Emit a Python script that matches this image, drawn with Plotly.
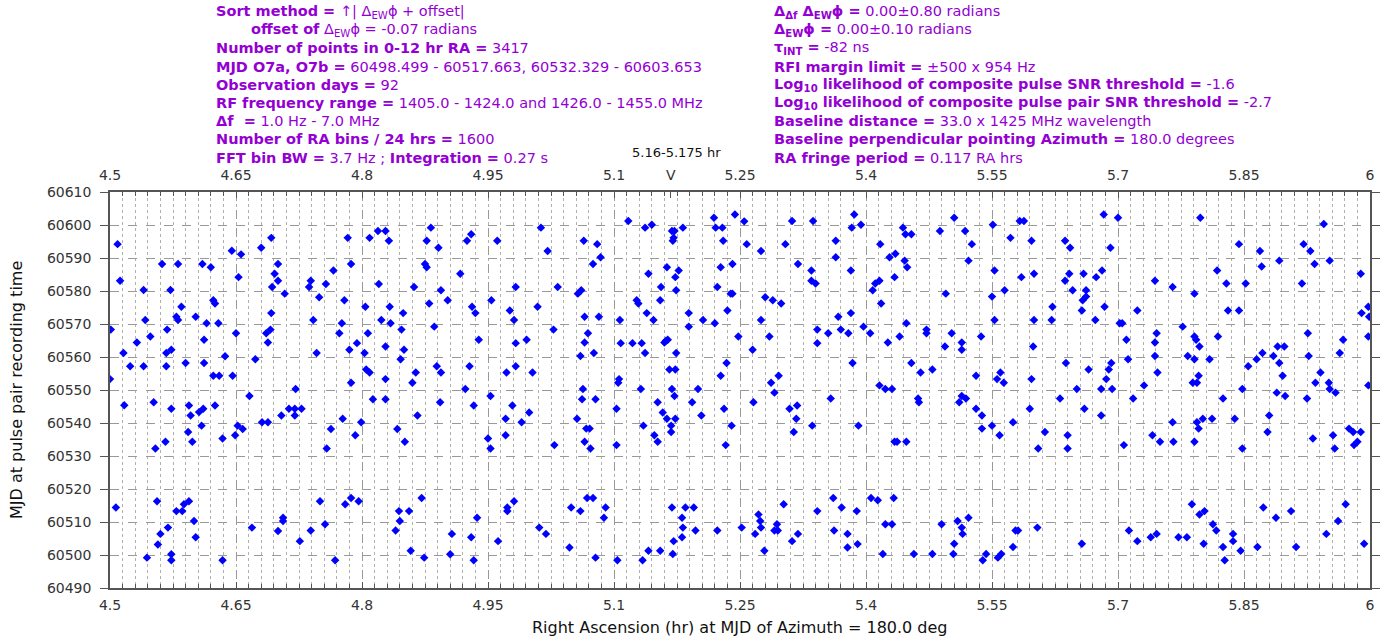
import plotly.graph_objects as go

# ---------------- data ----------------
ra_hr = [
    4.509, 4.512, 4.501, 4.516, 4.524, 4.500, 4.517, 4.507, 4.532, 4.540, 4.542, 4.548, 4.540, 4.552, 4.554,
    4.544, 4.556, 4.560, 4.557, 4.562, 4.568, 4.567, 4.573, 4.567, 4.572, 4.581, 4.585, 4.579, 4.581, 4.566,
    4.573, 4.569, 4.573, 4.573, 4.579, 4.586, 4.588, 4.594, 4.590, 4.594, 4.596, 4.593, 4.598, 4.600, 4.602,
    4.602, 4.610, 4.620, 4.623, 4.625, 4.615, 4.612, 4.612, 4.623, 4.630, 4.606, 4.611, 4.609, 4.625, 4.629,
    4.634, 4.634, 4.645, 4.656, 4.653, 4.650, 4.637, 4.646, 4.666, 4.652, 4.658, 4.649, 4.669, 4.673, 4.680,
    4.692, 4.696, 4.700, 4.700, 4.693, 4.708, 4.692, 4.686, 4.691, 4.688, 4.681, 4.688, 4.704, 4.713, 4.720,
    4.720, 4.728, 4.721, 4.706, 4.706, 4.700, 4.726, 4.739, 4.750, 4.756, 4.768, 4.737, 4.739, 4.749, 4.742,
    4.746, 4.766, 4.757, 4.783, 4.787, 4.779, 4.776, 4.773, 4.785, 4.787, 4.777, 4.763, 4.758, 4.792, 4.794,
    4.780, 4.787, 4.796,
    # 4.8 - 5.1
    4.799, 4.809, 4.819, 4.828, 4.832, 4.820, 4.804, 4.833, 4.823, 4.834, 4.807, 4.803, 4.828, 4.805, 4.809,
    4.828, 4.813, 4.828, 4.849, 4.847, 4.850, 4.846, 4.864, 4.860, 4.866, 4.842, 4.851, 4.862, 4.882, 4.877,
    4.891, 4.875, 4.877, 4.894, 4.880, 4.902, 4.886, 4.889, 4.894, 4.893, 4.917, 4.925, 4.930, 4.931, 4.935,
    4.939, 4.928, 4.923, 4.933, 4.871, 4.844, 4.856, 4.845, 4.840, 4.858, 4.874, 4.907, 4.905, 4.930, 4.937,
    4.933, 4.961, 4.954, 4.976, 4.981, 4.983, 4.983, 4.996, 4.983, 4.972, 5.003, 4.953, 4.979, 4.971, 4.990,
    4.999, 4.971, 4.950, 4.953, 4.981, 4.973, 4.973, 4.962, 5.013, 5.021, 5.009, 5.033, 5.028, 5.029, 5.011,
    5.019, 5.049, 5.060, 5.047, 5.064, 5.080, 5.084, 5.075, 5.057, 5.061, 5.065, 5.082, 5.069, 5.065, 5.060,
    5.076, 5.063, 5.062, 5.078, 5.056, 5.067, 5.071, 5.065, 5.072, 5.068, 5.075, 5.090, 5.088, 5.078,
    # 5.1 - 5.4
    5.117, 5.137, 5.145, 5.169, 5.172, 5.171, 5.170, 5.182, 5.141, 5.163, 5.177, 5.173, 5.156, 5.174, 5.127,
    5.129, 5.155, 5.139, 5.107, 5.147, 5.108, 5.122, 5.133, 5.137, 5.160, 5.162, 5.164, 5.174, 5.189, 5.189,
    5.206, 5.220, 5.166, 5.173, 5.106, 5.105, 5.132, 5.169, 5.172, 5.200, 5.152, 5.193, 5.103, 5.158, 5.163,
    5.173, 5.204, 5.135, 5.168, 5.168, 5.148, 5.152, 5.103, 5.219, 5.221, 5.229, 5.244, 5.255, 5.230, 5.258,
    5.241, 5.227, 5.275, 5.304, 5.223, 5.239, 5.241, 5.235, 5.248, 5.265, 5.275, 5.280, 5.289, 5.299, 5.285,
    5.234, 5.227, 5.287, 5.296, 5.291, 5.266, 5.231, 5.240, 5.233, 5.309, 5.318, 5.317, 5.314, 5.312, 5.337,
    5.319, 5.364, 5.364, 5.386, 5.383, 5.382, 5.335, 5.335, 5.340, 5.367, 5.382, 5.342, 5.355, 5.370, 5.379,
    5.342, 5.384, 5.358, 5.336, 5.391, 5.169, 5.185, 5.195, 5.181, 5.182, 5.197, 5.181, 5.171, 5.141, 5.155,
    5.170, 5.104, 5.134, 5.223, 5.252, 5.272, 5.274, 5.275, 5.268, 5.279, 5.294, 5.291, 5.295, 5.302, 5.319,
    5.312, 5.342, 5.361, 5.371, 5.362, 5.378, 5.378, 5.389, 5.390,
    # 5.4 - 5.7
    5.394, 5.417, 5.444, 5.447, 5.454, 5.428, 5.435, 5.446, 5.449, 5.434, 5.411, 5.416, 5.408, 5.418, 5.397,
    5.405, 5.426, 5.440, 5.448, 5.454, 5.465, 5.416, 5.423, 5.431, 5.462, 5.463, 5.434, 5.437, 5.448, 5.488,
    5.505, 5.518, 5.526, 5.522, 5.495, 5.472, 5.472, 5.502, 5.514, 5.514, 5.494, 5.537, 5.479, 5.531, 5.514,
    5.511, 5.519, 5.531, 5.538, 5.538, 5.550, 5.559, 5.551, 5.572, 5.583, 5.588, 5.597, 5.553, 5.550, 5.565,
    5.585, 5.600, 5.553, 5.600, 5.599, 5.560, 5.556, 5.564, 5.597, 5.575, 5.595, 5.613, 5.605, 5.637, 5.643,
    5.642, 5.637, 5.646, 5.659, 5.674, 5.681, 5.662, 5.662, 5.658, 5.657, 5.684, 5.683, 5.622, 5.621, 5.673,
    5.638, 5.665, 5.651, 5.680, 5.631, 5.660, 5.680, 5.640, 5.640, 5.406, 5.414, 5.433, 5.423, 5.431, 5.420,
    5.457, 5.479, 5.490, 5.509, 5.514, 5.515, 5.522, 5.505, 5.504, 5.543, 5.539, 5.557, 5.561, 5.578, 5.581,
    5.575, 5.604, 5.657,
    # 5.7 - 6.0
    5.691, 5.700, 5.686, 5.689, 5.692, 5.693, 5.702, 5.705, 5.710, 5.712, 5.723, 5.718, 5.731, 5.707, 5.744,
    5.765, 5.746, 5.744, 5.744, 5.747, 5.741, 5.750, 5.765, 5.766, 5.777, 5.791, 5.791, 5.793, 5.797, 5.783,
    5.791, 5.796, 5.789, 5.794, 5.809, 5.794, 5.801, 5.812, 5.796, 5.791, 5.798, 5.818, 5.829, 5.831, 5.844,
    5.844, 5.852, 5.819, 5.825, 5.839, 5.848, 5.848, 5.855, 5.869, 5.871, 5.892, 5.865, 5.872, 5.885, 5.890,
    5.898, 5.892, 5.896, 5.889, 5.899, 5.880, 5.878, 5.921, 5.929, 5.934, 5.919, 5.945, 5.952, 5.926, 5.927,
    5.941, 5.935, 5.951, 5.952, 5.959, 5.925, 5.932, 5.956, 5.958, 5.964, 5.968, 5.989, 5.990, 5.998, 5.999,
    5.998, 5.998, 5.975, 5.980, 5.989, 5.981, 5.985, 5.788, 5.797, 5.803, 5.813, 5.817, 5.802, 5.713, 5.723,
    5.739, 5.746, 5.772, 5.782, 5.825, 5.827, 5.837, 5.837, 5.846, 5.866, 5.873, 5.888, 5.906, 5.912, 5.948,
    5.962, 5.971, 5.993,
]

mjd = [
    60594.2, 60583.1, 60568.3, 60561.2, 60557.2, 60553.3, 60545.4, 60514.4, 60564.4, 60580.3, 60571.2, 60566.2, 60557.2, 60546.3, 60532.3,
    60499.2, 60516.3, 60506.4, 60503.2, 60588.2, 60568.3, 60561.2, 60562.2, 60557.2, 60580.3, 60588.2, 60575.2, 60572.2, 60571.2, 60534.3,
    60544.3, 60508.3, 60500.2, 60498.4, 60513.3, 60513.3, 60515.4, 60516.3, 60558.2, 60545.3, 60542.3, 60537.3, 60534.3, 60510.3, 60505.4,
    60572.2, 60588.2, 60587.2, 60577.2, 60576.2, 60570.2, 60565.2, 60558.2, 60554.3, 60554.3, 60543.3, 60544.3, 60539.2, 60545.3, 60570.2,
    60535.3, 60498.4, 60592.2, 60591.1, 60584.2, 60567.2, 60560.2, 60554.3, 60548.2, 60539.2, 60538.2, 60536.3, 60508.3, 60559.3, 60593.1,
    60596.1, 60585.2, 60588.2, 60583.1, 60581.2, 60579.2, 60573.3, 60567.2, 60568.3, 60564.4, 60540.2, 60540.2, 60542.3, 60544.3, 60544.3,
    60542.3, 60544.3, 60550.3, 60511.3, 60510.3, 60507.3, 60504.2, 60507.4, 60516.3, 60509.3, 60498.4, 60581.2, 60583.1, 60578.1, 60571.2,
    60561.2, 60586.2, 60582.1, 60596.1, 60588.2, 60577.2, 60570.2, 60567.2, 60562.2, 60552.2, 60541.3, 60538.2, 60532.3, 60536.3, 60564.2,
    60515.4, 60517.3, 60516.3,
    # 4.8 - 5.1
    60540.2, 60596.1, 60598.2, 60598.2, 60595.2, 60582.1, 60575.2, 60575.2, 60571.2, 60570.2, 60567.2, 60561.2, 60563.2, 60556.2, 60555.3,
    60553.3, 60547.2, 60547.2, 60573.3, 60568.3, 60562.2, 60559.3, 60555.3, 60552.2, 60542.3, 60538.2, 60534.3, 60581.2, 60599.2, 60595.2,
    60593.1, 60588.2, 60587.2, 60580.2, 60576.2, 60577.2, 60569.2, 60557.2, 60555.3, 60546.3, 60585.2, 60595.2, 60597.2, 60575.2, 60573.3,
    60565.2, 60557.2, 60550.3, 60545.3, 60517.3, 60513.3, 60513.3, 60510.3, 60507.4, 60501.3, 60499.2, 60506.4, 60500.2, 60505.4, 60511.3,
    60498.4, 60595.2, 60577.2, 60574.1, 60571.2, 60581.2, 60564.2, 60565.2, 60557.2, 60555.3, 60555.3, 60548.2, 60545.3, 60541.3, 60540.2,
    60543.2, 60536.3, 60535.3, 60532.3, 60516.3, 60514.4, 60513.3, 60504.2, 60599.2, 60592.1, 60575.2, 60581.2, 60568.3, 60533.3, 60508.3,
    60506.4, 60514.4, 60513.3, 60502.3, 60595.2, 60594.2, 60590.2, 60588.2, 60579.2, 60580.2, 60572.2, 60572.2, 60567.2, 60564.4, 60560.3,
    60561.2, 60550.3, 60547.2, 60547.2, 60541.3, 60538.3, 60538.3, 60534.3, 60532.3, 60517.3, 60517.3, 60514.4, 60511.3, 60499.2,
    # 5.1 - 5.4
    60601.2, 60599.2, 60600.1, 60598.2, 60598.2, 60596.1, 60595.2, 60599.2, 60585.2, 60587.2, 60586.2, 60584.2, 60581.2, 60580.2, 60577.2,
    60576.2, 60577.2, 60573.3, 60571.2, 60571.2, 60564.2, 60564.2, 60564.2, 60561.2, 60564.4, 60564.9, 60565.2, 60561.2, 60573.3, 60569.2,
    60571.2, 60570.2, 60556.2, 60556.2, 60553.3, 60552.2, 60550.3, 60550.3, 60548.2, 60550.3, 60546.3, 60546.3, 60544.3, 60543.2, 60541.3,
    60541.3, 60542.3, 60539.2, 60539.2, 60537.3, 60536.3, 60534.3, 60533.3, 60602.2, 60599.2, 60599.2, 60603.2, 60601.1, 60595.2, 60594.2,
    60588.2, 60587.2, 60592.1, 60594.2, 60581.2, 60579.2, 60579.2, 60574.1, 60566.2, 60562.2, 60571.2, 60578.1, 60577.2, 60576.2, 60566.2,
    60558.2, 60554.3, 60552.2, 60554.3, 60549.2, 60546.3, 60544.3, 60539.2, 60533.3, 60544.3, 60545.3, 60541.3, 60537.3, 60601.2, 60601.2,
    60588.2, 60595.2, 60590.2, 60603.2, 60599.2, 60586.2, 60586.2, 60583.1, 60582.3, 60572.2, 60573.3, 60568.3, 60567.2, 60568.3, 60567.2,
    60564.2, 60558.2, 60547.4, 60539.2, 60539.2, 60514.4, 60514.4, 60514.4, 60511.3, 60508.3, 60507.4, 60505.4, 60504.2, 60501.3, 60501.3,
    60500.3, 60498.4, 60498.4, 60507.4, 60508.3, 60512.3, 60510.3, 60508.3, 60506.4, 60501.3, 60509.3, 60507.4, 60507.4, 60515.4, 60506.4,
    60504.2, 60513.3, 60517.3, 60514.4, 60507.4, 60506.4, 60502.3, 60513.3, 60503.3,
    # 5.4 - 5.7
    60600.1, 60594.2, 60599.2, 60597.2, 60597.2, 60590.2, 60591.3, 60589.2, 60587.2, 60584.2, 60582.3, 60583.1, 60580.2, 60576.2, 60569.2,
    60567.2, 60564.4, 60566.2, 60570.2, 60558.2, 60555.3, 60551.4, 60550.3, 60550.3, 60547.4, 60546.3, 60534.3, 60534.3, 60534.3, 60598.2,
    60602.2, 60598.2, 60594.2, 60589.2, 60579.2, 60568.3, 60567.2, 60567.2, 60564.4, 60562.2, 60563.2, 60566.2, 60556.2, 60554.3, 60548.2,
    60546.3, 60547.4, 60544.3, 60542.3, 60538.3, 60539.2, 60536.3, 60600.1, 60596.1, 60601.2, 60601.2, 60595.2, 60586.2, 60578.3, 60580.2,
    60584.2, 60585.2, 60571.2, 60571.2, 60563.2, 60555.3, 60553.3, 60552.2, 60553.3, 60540.2, 60544.3, 60537.3, 60532.3, 60595.2, 60593.1,
    60585.2, 60583.1, 60580.2, 60585.2, 60584.2, 60586.2, 60580.2, 60578.3, 60577.2, 60574.1, 60575.2, 60603.2, 60575.2, 60571.2, 60571.2,
    60558.2, 60556.2, 60550.3, 60550.3, 60547.4, 60544.3, 60542.3, 60536.3, 60532.3, 60517.3, 60516.6, 60517.3, 60509.3, 60509.3, 60500.3,
    60500.3, 60500.3, 60509.3, 60510.3, 60508.3, 60506.4, 60511.3, 60503.4, 60500.3, 60500.3, 60498.4, 60499.2, 60500.3, 60507.4, 60507.4,
    60502.4, 60508.3, 60503.4,
    # 5.7 - 6.0
    60593.1, 60602.2, 60553.3, 60556.2, 60558.2, 60550.3, 60570.2, 60570.2, 60565.2, 60559.3, 60574.1, 60547.4, 60551.4, 60533.3, 60583.1,
    60581.2, 60567.2, 60564.4, 60560.3, 60555.3, 60536.3, 60534.3, 60540.2, 60534.3, 60569.2, 60579.2, 60566.2, 60565.2, 60563.2, 60560.3,
    60559.3, 60554.3, 60552.2, 60552.2, 60559.3, 60540.2, 60541.3, 60541.3, 60538.3, 60534.3, 60602.2, 60586.2, 60582.3, 60574.1, 60594.2,
    60574.1, 60582.3, 60566.2, 60547.4, 60541.3, 60550.3, 60532.3, 60557.2, 60592.1, 60587.4, 60589.2, 60559.3, 60561.2, 60560.3, 60563.2,
    60563.2, 60558.2, 60554.3, 60549.2, 60548.2, 60542.3, 60537.3, 60594.2, 60592.1, 60588.2, 60582.3, 60600.3, 60589.2, 60567.2, 60560.3,
    60555.3, 60552.2, 60552.2, 60550.3, 60549.2, 60547.4, 60535.3, 60536.3, 60532.3, 60561.2, 60565.2, 60585.2, 60573.3, 60575.2, 60572.2,
    60566.2, 60551.4, 60538.3, 60537.3, 60537.3, 60533.3, 60534.3, 60515.4, 60512.3, 60513.3, 60509.3, 60507.4, 60503.4, 60507.4, 60504.2,
    60505.4, 60506.4, 60505.4, 60505.4, 60502.4, 60498.4, 60506.4, 60504.2, 60501.3, 60502.4, 60514.4, 60511.3, 60513.3, 60502.4, 60506.4,
    60510.3, 60515.4, 60503.4,
]

x_tick_vals = [4.5, 4.65, 4.8, 4.95, 5.1, 5.25, 5.4, 5.55, 5.7, 5.85, 6.0]
x_tick_text = ["4.5", "4.65", "4.8", "4.95", "5.1", "5.25", "5.4", "5.55", "5.7", "5.85", "6"]
marker_ra = 5.1675
marker_label = "V"
marker_range_text = "5.16-5.175 hr"

left_lines = [
    "<b>Sort method =</b> ↑| Δ<sub>EW</sub>ϕ + offset|",
    "<b>offset of</b> Δ<sub>EW</sub>ϕ = -0.07 radians",
    "<b>Number of points in 0-12 hr RA =</b> 3417",
    "<b>MJD O7a, O7b =</b> 60498.499 - 60517.663, 60532.329 - 60603.653",
    "<b>Observation days =</b> 92",
    "<b>RF frequency range =</b> 1405.0 - 1424.0 and 1426.0 - 1455.0 MHz",
    "<b>Δf  =</b> 1.0 Hz - 7.0 MHz",
    "<b>Number of RA bins / 24 hrs =</b> 1600",
    "<b>FFT bin BW =</b> 3.7 Hz ; <b>Integration =</b> 0.27 s",
]
right_lines = [
    "<b>Δ<sub>Δf</sub> Δ<sub>EW</sub>ϕ =</b> 0.00±0.80 radians",
    "<b>Δ<sub>EW</sub>ϕ =</b> 0.00±0.10 radians",
    "<b>τ<sub>INT</sub> =</b> -82 ns",
    "<b>RFI margin limit =</b> ±500 x 954 Hz",
    "<b>Log<sub>10</sub> likelihood of composite pulse SNR threshold =</b> -1.6",
    "<b>Log<sub>10</sub> likelihood of composite pulse pair SNR threshold =</b> -2.7",
    "<b>Baseline distance =</b> 33.0 x 1425 MHz wavelength",
    "<b>Baseline perpendicular pointing Azimuth =</b> 180.0 degrees",
    "<b>RA fringe period =</b> 0.117 RA hrs",
]
x_title = "Right Ascension (hr) at MJD of Azimuth = 180.0 deg"
y_title = "MJD at pulse pair recording time"

# ---------------- figure ----------------
W, H = 1390, 641
PL, PR, PT, PB = 110, 1370, 191.7, 587.7
ML, MR, MT, MB = PL, W - PR, PT, H - PB
PW, PH = PR - PL, PB - PT


def px(xp):
    return (xp - PL) / PW


def py(yp):
    return (PB - yp) / PH


FONT = "DejaVu Sans"
PURPLE = "#9400D3"
TICKC = "#333333"

fig = go.Figure()
fig.add_trace(go.Scatter(
    x=ra_hr, y=mjd, mode="markers",
    marker=dict(symbol="diamond", size=6.5, color="#0000FF", line=dict(width=0)),
    showlegend=False, hoverinfo="x+y",
))
# anchor trace for the top axis
fig.add_trace(go.Scatter(
    x=[ra_hr[0]], y=[mjd[0]], xaxis="x2", mode="markers",
    marker=dict(opacity=0), showlegend=False, hoverinfo="skip",
))

axis_common = dict(
    showline=True, linecolor="#555555", linewidth=1.5,
    tickfont=dict(family=FONT, size=14, color=TICKC),
    zeroline=False, automargin=False,
)

fig.update_layout(
    width=W, height=H,
    margin=dict(l=ML, r=MR, t=MT, b=MB, pad=0),
    paper_bgcolor="white", plot_bgcolor="white",
    font=dict(family=FONT, size=14, color=TICKC),
    xaxis=dict(
        range=[4.5, 6.0], tickmode="array", tickvals=x_tick_vals, ticktext=x_tick_text,
        showgrid=True, gridcolor="#999999", griddash="dash", gridwidth=1.2,
        ticks="inside", ticklen=6, tickcolor="#555555", ticklabelstandoff=3,
        minor=dict(tick0=4.5, dtick=0.015, showgrid=True, gridcolor="#b0b0b0", griddash="dot",
                   gridwidth=1, ticks="inside", ticklen=4, tickcolor="#555555"),
        mirror="ticks",
        **axis_common,
    ),
    xaxis2=dict(
        range=[4.5, 6.0], overlaying="x", side="top", anchor="y",
        tickmode="array", tickvals=x_tick_vals + [marker_ra], ticktext=x_tick_text + [marker_label],
        showgrid=False, ticks="inside", ticklen=6, tickcolor="#555555", ticklabelstandoff=5,
        **axis_common,
    ),
    yaxis=dict(
        range=[60490, 60610], dtick=10, tick0=60490, tickformat="d",
        showgrid=True, gridcolor="#999999", griddash="dash", gridwidth=1.2,
        ticks="outside", ticklen=8, tickcolor="#555555", mirror="ticks", ticklabelstandoff=6,
        **axis_common,
    ),
)

annotations = []
line_y0, line_dy = 11.7, 18.2
for i, t in enumerate(left_lines):
    xx = 249 if i == 1 else 214
    annotations.append(dict(
        text=t, xref="paper", yref="paper", x=px(xx), y=py(line_y0 + i * line_dy),
        xanchor="left", yanchor="middle", showarrow=False,
        font=dict(family=FONT, size=14.5, color=PURPLE),
    ))
for i, t in enumerate(right_lines):
    annotations.append(dict(
        text=t, xref="paper", yref="paper", x=px(771.5), y=py(line_y0 + i * line_dy),
        xanchor="left", yanchor="middle", showarrow=False,
        font=dict(family=FONT, size=14.5, color=PURPLE),
    ))
annotations.append(dict(
    text=marker_range_text, xref="paper", yref="paper", x=px(676.5), y=py(152.5),
    xanchor="center", yanchor="middle", showarrow=False,
    font=dict(family=FONT, size=13, color="#111111"),
))
annotations.append(dict(
    text=x_title, xref="paper", yref="paper", x=0.5, y=py(627),
    xanchor="center", yanchor="middle", showarrow=False,
    font=dict(family=FONT, size=16, color="#111111"),
))
annotations.append(dict(
    text=y_title, xref="paper", yref="paper", x=px(16), y=0.5, textangle=-90,
    xanchor="center", yanchor="middle", showarrow=False,
    font=dict(family=FONT, size=16, color="#111111"),
))
fig.update_layout(annotations=annotations)

# remove the browser's default 8px page margin so the figure sits at the window origin
fig.write_html(
    "out.html",
    config={"displayModeBar": False},
    post_script="document.body.style.margin='0';document.body.style.overflow='hidden';",
)
